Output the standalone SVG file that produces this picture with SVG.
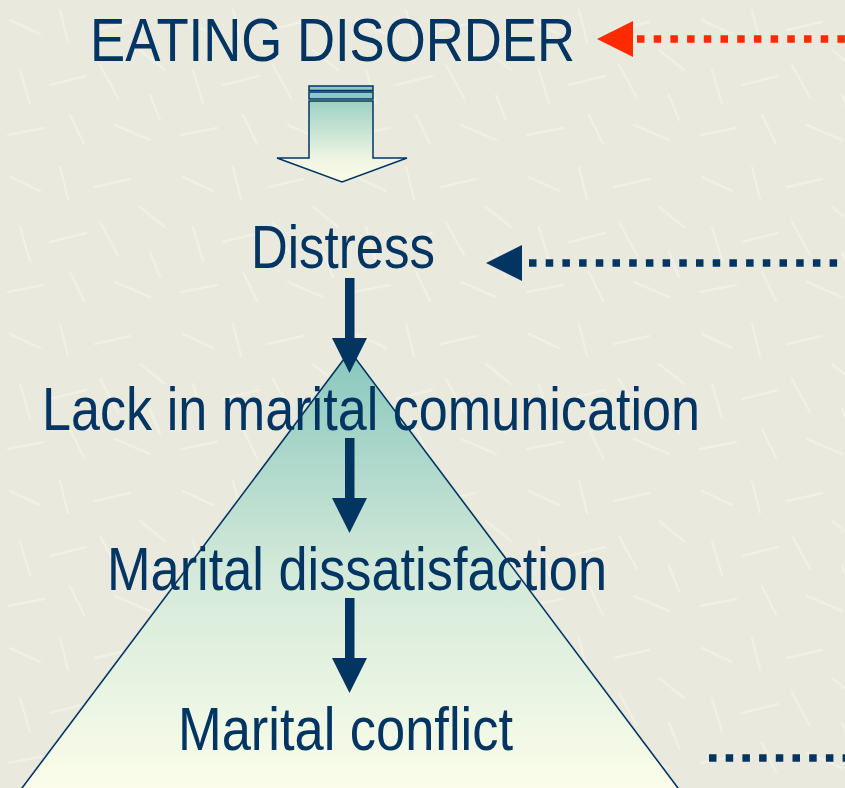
<svg xmlns="http://www.w3.org/2000/svg" width="845" height="788" viewBox="0 0 845 788">
  <style>
    .t { font-family: "Liberation Sans", Arial, sans-serif; font-size: 61px; fill: #033563; }
    .navy { fill: #033563; }
    .dotn { stroke: #033563; stroke-width: 7.5; fill: none; stroke-dasharray: 7.5 9.2; }
    .dotr { stroke: #ff2a00; stroke-width: 7.5; fill: none; stroke-dasharray: 7.5 9.2; }
  </style>
  <defs>
    <pattern id="tex" width="173" height="157" patternUnits="userSpaceOnUse">
      <rect width="173" height="157" fill="#e9e9de"/>
      <g stroke="#f0f0e7" stroke-width="2.5" stroke-linecap="round">
        <line x1="10" y1="20" x2="40" y2="34"/>
        <line x1="60" y1="10" x2="68" y2="42"/>
        <line x1="95" y1="30" x2="130" y2="22"/>
        <line x1="140" y1="50" x2="165" y2="70"/>
        <line x1="20" y1="70" x2="30" y2="104"/>
        <line x1="50" y1="85" x2="86" y2="76"/>
        <line x1="100" y1="65" x2="118" y2="98"/>
        <line x1="8" y1="135" x2="44" y2="128"/>
        <line x1="70" y1="115" x2="84" y2="144"/>
        <line x1="115" y1="125" x2="150" y2="140"/>
        <line x1="150" y1="95" x2="160" y2="120"/>
      </g>
    </pattern>
    <linearGradient id="triG" x1="0" y1="351" x2="0" y2="788" gradientUnits="userSpaceOnUse">
      <stop offset="0" stop-color="#88c7bd"/>
      <stop offset="0.5" stop-color="#d3e9d9"/>
      <stop offset="1" stop-color="#fbfdea"/>
    </linearGradient>
    <linearGradient id="blkG" x1="0" y1="86" x2="0" y2="182" gradientUnits="userSpaceOnUse">
      <stop offset="0" stop-color="#88c7bd"/>
      <stop offset="0.75" stop-color="#eef5e2"/>
      <stop offset="1" stop-color="#fbfdea"/>
    </linearGradient>
  </defs>

  <rect width="845" height="788" fill="url(#tex)"/>

  <g id="pyramid">
    <polygon points="350,351 13,800 687,800" fill="url(#triG)" stroke="#033563" stroke-width="1.6"/>
  </g>

  <g id="block-arrow">
    <rect x="309" y="86" width="64" height="4.5" fill="#8cc9bf" stroke="#033563" stroke-width="1.5"/>
    <rect x="309" y="92" width="64" height="7" fill="#8cc9bf" stroke="#033563" stroke-width="1.5"/>
    <polygon points="309,101 373,101 373,158 407,158 342,182 277,158 309,158" fill="url(#blkG)" stroke="#033563" stroke-width="1.5"/>
  </g>

  <g id="labels">
    <g id="eating-disorder"><text class="t" x="90" y="61" textLength="485" lengthAdjust="spacingAndGlyphs">EATING DISORDER</text></g>
    <g id="distress"><text class="t" x="251" y="268" textLength="184" lengthAdjust="spacingAndGlyphs">Distress</text></g>
    <g id="lack"><text class="t" x="42" y="430" textLength="658" lengthAdjust="spacingAndGlyphs">Lack in marital comunication</text></g>
    <g id="dissatisfaction"><text class="t" x="107" y="590" textLength="500" lengthAdjust="spacingAndGlyphs">Marital dissatisfaction</text></g>
    <g id="conflict"><text class="t" x="178" y="750" textLength="335" lengthAdjust="spacingAndGlyphs">Marital conflict</text></g>
  </g>

  <g id="connectors">
    <rect class="navy" x="345" y="278" width="9.5" height="62"/>
    <polygon class="navy" points="332,338 367,338 349.5,373"/>
    <rect class="navy" x="345" y="438" width="9.5" height="62"/>
    <polygon class="navy" points="332,498 367,498 349.5,533"/>
    <rect class="navy" x="345" y="598" width="9.5" height="62"/>
    <polygon class="navy" points="332,658 367,658 349.5,693"/>

    <line class="dotr" x1="637" y1="39" x2="850" y2="39"/>
    <polygon points="597,39 633,21 633,57" fill="#ff2a00"/>

    <line class="dotn" x1="529" y1="263" x2="850" y2="263"/>
    <polygon class="navy" points="486,263 522,245 522,281"/>

    <line class="dotn" x1="709" y1="758" x2="850" y2="758"/>
  </g>
</svg>
